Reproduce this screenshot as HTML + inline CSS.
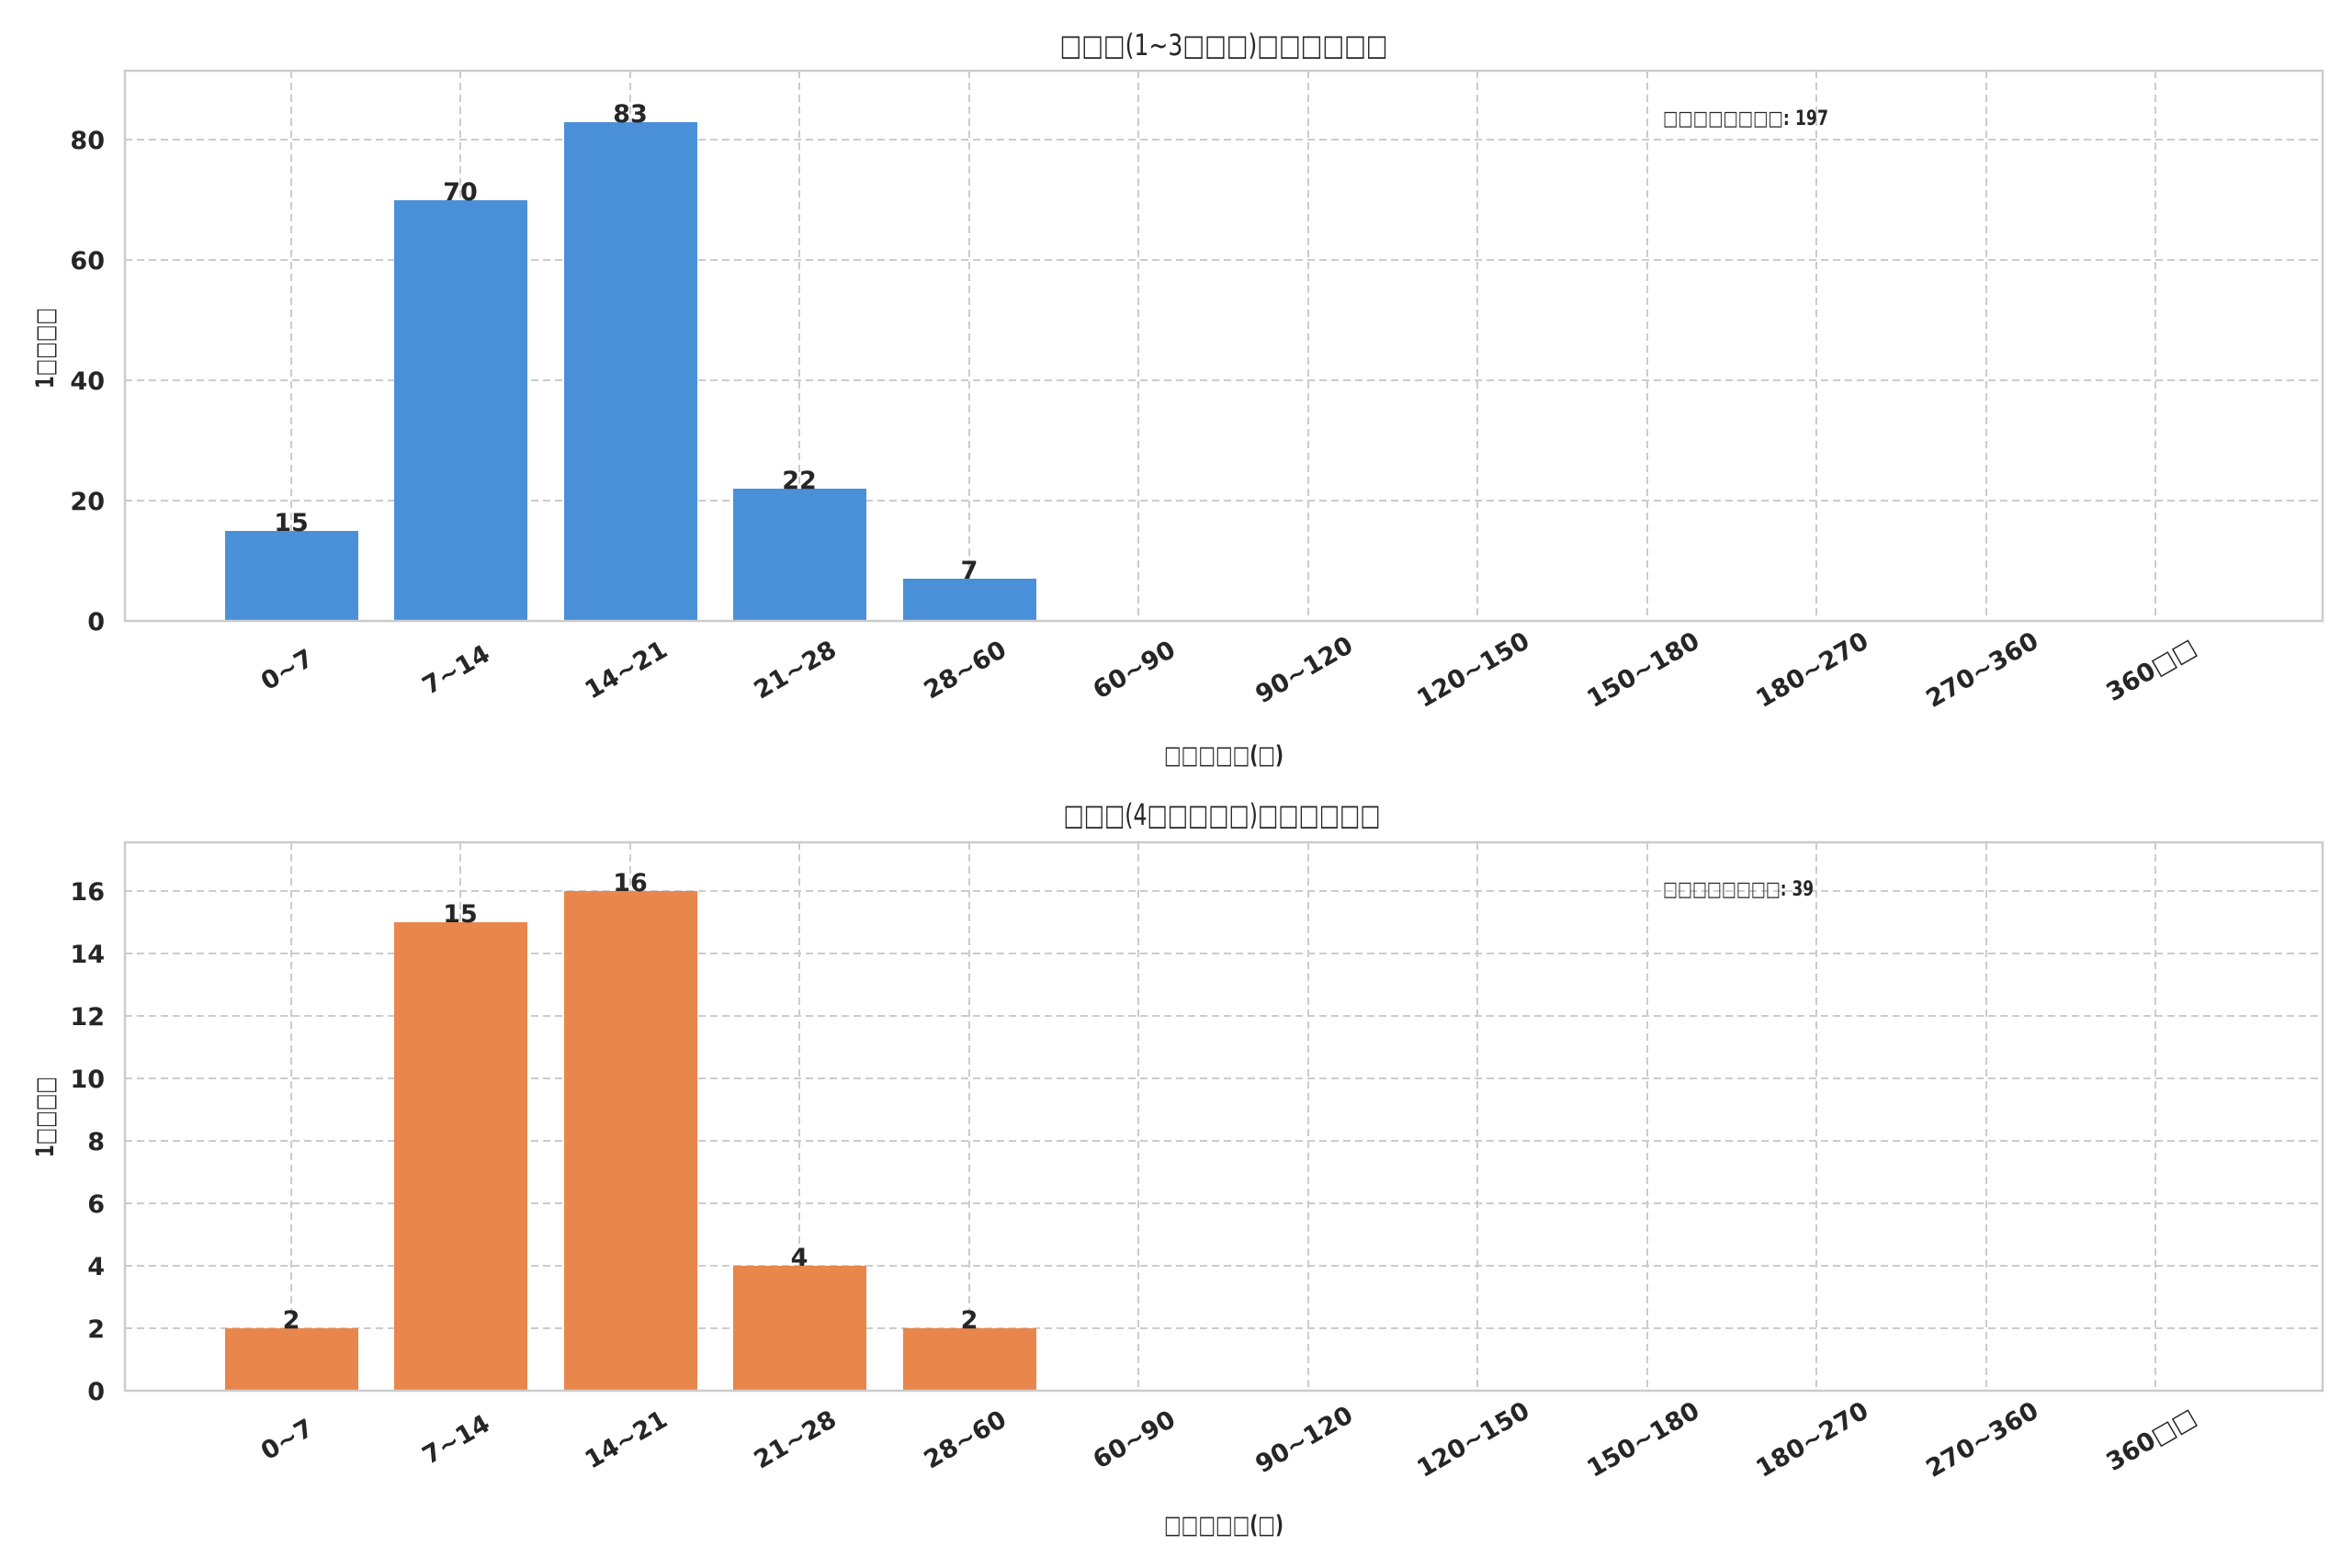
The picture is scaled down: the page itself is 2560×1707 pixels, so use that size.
<!DOCTYPE html>
<html><head><meta charset="utf-8"><style>body{margin:0;background:#fff}svg{display:block}</style></head><body>
<svg width="2560" height="1707" xmlns="http://www.w3.org/2000/svg" font-family="'DejaVu Sans','Liberation Sans',sans-serif" fill="#262626">
<rect width="2560" height="1707" fill="#fff"/>
<g id="top">
<g stroke="#cccccc" stroke-width="2" stroke-dasharray="8,5">
<line x1="136" x2="2528" y1="152" y2="152"/><line x1="136" x2="2528" y1="283" y2="283"/><line x1="136" x2="2528" y1="414" y2="414"/><line x1="136" x2="2528" y1="545" y2="545"/>
<line x1="317" x2="317" y1="77" y2="676"/><line x1="501" x2="501" y1="77" y2="676"/><line x1="686" x2="686" y1="77" y2="676"/><line x1="870" x2="870" y1="77" y2="676"/><line x1="1055" x2="1055" y1="77" y2="676"/><line x1="1239" x2="1239" y1="77" y2="676"/><line x1="1424" x2="1424" y1="77" y2="676"/><line x1="1608" x2="1608" y1="77" y2="676"/><line x1="1793" x2="1793" y1="77" y2="676"/><line x1="1977" x2="1977" y1="77" y2="676"/><line x1="2162" x2="2162" y1="77" y2="676"/><line x1="2346" x2="2346" y1="77" y2="676"/>
</g>
<g fill="#4a90d9">
<rect x="245" y="578" width="145" height="98"/><rect x="429" y="218" width="145" height="458"/><rect x="614" y="133" width="145" height="543"/><rect x="798" y="532" width="145" height="144"/><rect x="983" y="630" width="145" height="46"/>
</g>
<rect x="136" y="77" width="2392" height="599" fill="none" stroke="#cccccc" stroke-width="2.5"/>
<g font-weight="bold" font-size="27" text-anchor="middle">
<text x="317" y="578">15</text><text x="501" y="218">70</text><text x="686" y="133">83</text><text x="870" y="532">22</text><text x="1055" y="630">7</text>
</g>
<g font-weight="bold" font-size="27" text-anchor="end">
<text x="114" y="686">0</text><text x="114" y="555">20</text><text x="114" y="424">40</text><text x="114" y="293">60</text><text x="114" y="162">80</text>
</g>
<g font-weight="bold" font-size="27" text-anchor="middle">
<text transform="translate(317,737) rotate(-30)">0~7</text><text transform="translate(501,737) rotate(-30)">7~14</text><text transform="translate(686,737) rotate(-30)">14~21</text><text transform="translate(870,737) rotate(-30)">21~28</text><text transform="translate(1055,737) rotate(-30)">28~60</text><text transform="translate(1239,737) rotate(-30)">60~90</text><text transform="translate(1424,737) rotate(-30)">90~120</text><text transform="translate(1608,737) rotate(-30)">120~150</text><text transform="translate(1793,737) rotate(-30)">150~180</text><text transform="translate(1977,737) rotate(-30)">180~270</text><text transform="translate(2162,737) rotate(-30)">270~360</text><text transform="translate(2346,737) rotate(-30)">360□□</text>
</g>
<text x="1332" y="831" font-size="27" font-weight="bold" text-anchor="middle" textLength="130" lengthAdjust="spacingAndGlyphs">□□□□□(□)</text>
<text transform="translate(58,379) rotate(-90)" font-size="27" font-weight="bold" text-anchor="middle" textLength="88" lengthAdjust="spacingAndGlyphs">1□□□□</text>
<text x="1332" y="60" font-size="32" text-anchor="middle" textLength="357" lengthAdjust="spacingAndGlyphs">□□□(1~3□□□)□□□□□□</text>
<text x="1810" y="136" font-size="22" font-weight="bold" textLength="180" lengthAdjust="spacingAndGlyphs">□□□□□□□□: 197</text>
</g>
<g id="bot">
<g stroke="#cccccc" stroke-width="2" stroke-dasharray="8,5">
<line x1="136" x2="2528" y1="1446" y2="1446"/><line x1="136" x2="2528" y1="1378" y2="1378"/><line x1="136" x2="2528" y1="1310" y2="1310"/><line x1="136" x2="2528" y1="1242" y2="1242"/><line x1="136" x2="2528" y1="1174" y2="1174"/><line x1="136" x2="2528" y1="1106" y2="1106"/><line x1="136" x2="2528" y1="1038" y2="1038"/><line x1="136" x2="2528" y1="970" y2="970"/>
<line x1="317" x2="317" y1="917" y2="1514"/><line x1="501" x2="501" y1="917" y2="1514"/><line x1="686" x2="686" y1="917" y2="1514"/><line x1="870" x2="870" y1="917" y2="1514"/><line x1="1055" x2="1055" y1="917" y2="1514"/><line x1="1239" x2="1239" y1="917" y2="1514"/><line x1="1424" x2="1424" y1="917" y2="1514"/><line x1="1608" x2="1608" y1="917" y2="1514"/><line x1="1793" x2="1793" y1="917" y2="1514"/><line x1="1977" x2="1977" y1="917" y2="1514"/><line x1="2162" x2="2162" y1="917" y2="1514"/><line x1="2346" x2="2346" y1="917" y2="1514"/>
</g>
<g fill="#e8864c">
<rect x="245" y="1446" width="145" height="68"/><rect x="429" y="1004" width="145" height="510"/><rect x="614" y="970" width="145" height="544"/><rect x="798" y="1378" width="145" height="136"/><rect x="983" y="1446" width="145" height="68"/>
</g>
<rect x="136" y="917" width="2392" height="597" fill="none" stroke="#cccccc" stroke-width="2.5"/>
<g font-weight="bold" font-size="27" text-anchor="middle">
<text x="317" y="1446">2</text><text x="501" y="1004">15</text><text x="686" y="970">16</text><text x="870" y="1378">4</text><text x="1055" y="1446">2</text>
</g>
<g font-weight="bold" font-size="27" text-anchor="end">
<text x="114" y="1524">0</text><text x="114" y="1456">2</text><text x="114" y="1388">4</text><text x="114" y="1320">6</text><text x="114" y="1252">8</text><text x="114" y="1184">10</text><text x="114" y="1116">12</text><text x="114" y="1048">14</text><text x="114" y="980">16</text>
</g>
<g font-weight="bold" font-size="27" text-anchor="middle">
<text transform="translate(317,1575) rotate(-30)">0~7</text><text transform="translate(501,1575) rotate(-30)">7~14</text><text transform="translate(686,1575) rotate(-30)">14~21</text><text transform="translate(870,1575) rotate(-30)">21~28</text><text transform="translate(1055,1575) rotate(-30)">28~60</text><text transform="translate(1239,1575) rotate(-30)">60~90</text><text transform="translate(1424,1575) rotate(-30)">90~120</text><text transform="translate(1608,1575) rotate(-30)">120~150</text><text transform="translate(1793,1575) rotate(-30)">150~180</text><text transform="translate(1977,1575) rotate(-30)">180~270</text><text transform="translate(2162,1575) rotate(-30)">270~360</text><text transform="translate(2346,1575) rotate(-30)">360□□</text>
</g>
<text x="1332" y="1669" font-size="27" font-weight="bold" text-anchor="middle" textLength="130" lengthAdjust="spacingAndGlyphs">□□□□□(□)</text>
<text transform="translate(58,1216) rotate(-90)" font-size="27" font-weight="bold" text-anchor="middle" textLength="88" lengthAdjust="spacingAndGlyphs">1□□□□</text>
<text x="1330" y="898" font-size="32" text-anchor="middle" textLength="345" lengthAdjust="spacingAndGlyphs">□□□(4□□□□□)□□□□□□</text>
<text x="1810" y="975" font-size="22" font-weight="bold" textLength="164" lengthAdjust="spacingAndGlyphs">□□□□□□□□: 39</text>
</g>
</svg>
</body></html>
